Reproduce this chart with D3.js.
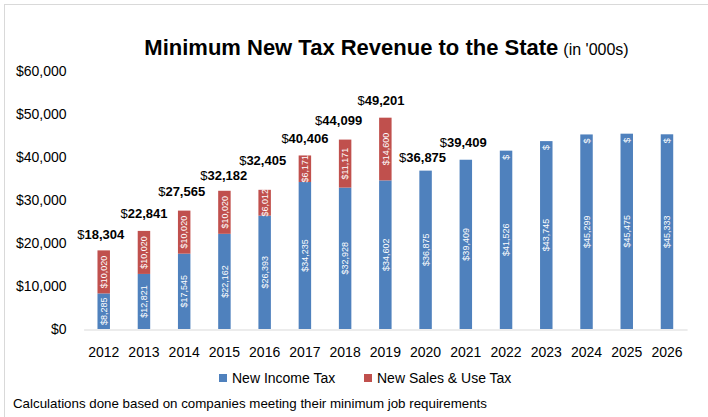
<!DOCTYPE html>
<html>
<head>
<meta charset="utf-8">
<script src="https://cdn.jsdelivr.net/npm/d3@7"></script>
<style>
  html, body { margin: 0; padding: 0; background: #fff; }
  svg { display: block; font-family: "Liberation Sans", Arial, sans-serif; }
</style>
</head>
<body>
<svg id="chart" width="708" height="417"></svg>
<script>
// ---------------- data ----------------
const years = ["2012","2013","2014","2015","2016","2017","2018","2019","2020","2021","2022","2023","2024","2025","2026"];
const incomeTax = [8285, 12821, 17545, 22162, 26393, 34235, 32928, 34602, 36875, 39409, 41526, 43745, 45299, 45475, 45333];
const salesUseTax = [10020, 10020, 10020, 10020, 6012, 6171, 11171, 14600, null, null, 0, 0, 0, 0, 0];
const totalLabels = [18304, 22841, 27565, 32182, 32405, 40406, 44099, 49201, 36875, 39409, null, null, null, null, null];
const yTicks = [0, 10000, 20000, 30000, 40000, 50000, 60000];
const seriesNames = ["New Income Tax", "New Sales & Use Tax"];
const titleMain = "Minimum New Tax Revenue to the State";
const titleUnit = "(in '000s)";
const footnote = "Calculations done based on companies meeting their minimum job requirements";

// ---------------- layout / style ----------------
const colors = ["#4F81BD", "#C0504D"];
// manual nudges of the total labels (px), as placed in the original chart
const totalNudgeX = [-3, 0, -2.5, -0.7, -2, 0, -6.5, -4.4, -3, -2.6, 0, 0, 0, 0, 0];
const totalNudgeY = [1.5, 0, -1.5, 1.7, -11.5, 0.3, -2, -0.2, 4.6, -0.2, 0, 0, 0, 0, 0];

const svg = d3.select("#chart");
const fmt = d3.format(",");

// frame
svg.append("rect").attr("x", 4.5).attr("y", 4.5).attr("width", 760).attr("height", 460)
  .attr("fill", "#fff").attr("stroke", "#d9d9d9").attr("stroke-width", 1);

const x = d3.scaleBand().domain(years).range([83.6, 687.1]).paddingInner(0.69).paddingOuter(0.345);
const y = d3.scaleLinear().domain([0, 60000]).range([329, 71.3]);

const rows = years.map((yr, i) => ({ year: yr, income: incomeTax[i], sales: salesUseTax[i] == null ? 0 : salesUseTax[i], salesRaw: salesUseTax[i], total: totalLabels[i], i }));
const stack = d3.stack().keys(["income", "sales"]);
const stacked = stack(rows);

// bars
const g = svg.append("g");
stacked.forEach((layer, k) => {
  g.append("g").selectAll("rect").data(layer).join("rect")
    .attr("x", d => x(d.data.year))
    .attr("width", x.bandwidth())
    .attr("y", d => y(d[1]))
    .attr("height", d => Math.max(0, y(d[0]) - y(d[1])))
    .attr("fill", colors[k]);
});

// inside value labels (rotated)
const insideFont = 9;
stacked.forEach((layer, k) => {
  g.append("g").selectAll("text").data(layer.filter(d => d.data[k === 0 ? "income" : "salesRaw"] != null)).join("text")
    .attr("transform", d => {
      const cx = x(d.data.year) + x.bandwidth() / 2;
      const v = d[1] - d[0];
      if (v === 0) {
        // zero segment: label centred on bar top, only the "$" is visible on the bar
        return `translate(${cx + insideFont * 0.35},${y(d[1]) + 9}) rotate(-90)`;
      }
      const cy = (y(d[0]) + y(d[1])) / 2;
      return `translate(${cx + insideFont * 0.35},${cy}) rotate(-90)`;
    })
    .attr("text-anchor", d => (d[1] - d[0]) === 0 ? "start" : "middle")
    .attr("font-size", insideFont)
    .attr("fill", "#fff")
    .text(d => (d[1] - d[0]) === 0 ? "$" : "$" + fmt(d[1] - d[0]));
});

// total labels
const tl = g.append("g").selectAll("text").data(rows.filter(d => d.total != null)).join("text")
  .attr("x", d => x(d.year) + x.bandwidth() / 2 + totalNudgeX[d.i])
  .attr("y", d => y(d.total) - 17.5 + 4.6 + totalNudgeY[d.i])
  .attr("text-anchor", "middle")
  .attr("font-size", 13)
  .attr("fill", "#000");
tl.append("tspan").attr("font-weight", "normal").text("$");
tl.append("tspan").attr("font-weight", "bold").text(d => fmt(d.total));

// y axis
const yAxis = svg.append("g").attr("transform", "translate(83.6,0)")
  .call(d3.axisLeft(y).tickValues(yTicks).tickFormat(d => "$" + fmt(d)).tickSize(0).tickPadding(17));
yAxis.select(".domain").remove();
yAxis.selectAll("text").attr("font-size", 14).attr("font-family", null).attr("fill", "#000");

// x axis
const xAxis = svg.append("g").attr("transform", "translate(0,329.5)")
  .call(d3.axisBottom(x).tickSize(0).tickSizeOuter(0).tickPadding(18));
xAxis.select(".domain").attr("stroke", "#d9d9d9").attr("stroke-width", 1);
xAxis.selectAll("text").attr("font-size", 14).attr("font-family", null).attr("fill", "#000");

// title
const title = svg.append("text").attr("x", 386.5).attr("y", 55).attr("text-anchor", "middle").attr("fill", "#000");
title.append("tspan").attr("font-size", 22).attr("font-weight", "bold").text(titleMain);
title.append("tspan").attr("font-size", 16).attr("dx", 5).text(titleUnit);

// legend
const legendX = [219, 364];
const leg = svg.append("g");
seriesNames.forEach((name, k) => {
  leg.append("rect").attr("x", legendX[k]).attr("y", 374).attr("width", 8).attr("height", 8).attr("fill", colors[k]);
  leg.append("text").attr("x", legendX[k] + 13).attr("y", 383).attr("font-size", 14).attr("fill", "#000").text(name);
});

// footnote
const fn = svg.append("text").attr("x", 13).attr("y", 407.5).attr("font-size", 13.5).attr("fill", "#000").text(footnote);
const fnW = fn.node().getComputedTextLength();
if (Math.abs(fnW - 474) > 6) fn.attr("textLength", 474).attr("lengthAdjust", "spacingAndGlyphs");
</script>
</body>
</html>
